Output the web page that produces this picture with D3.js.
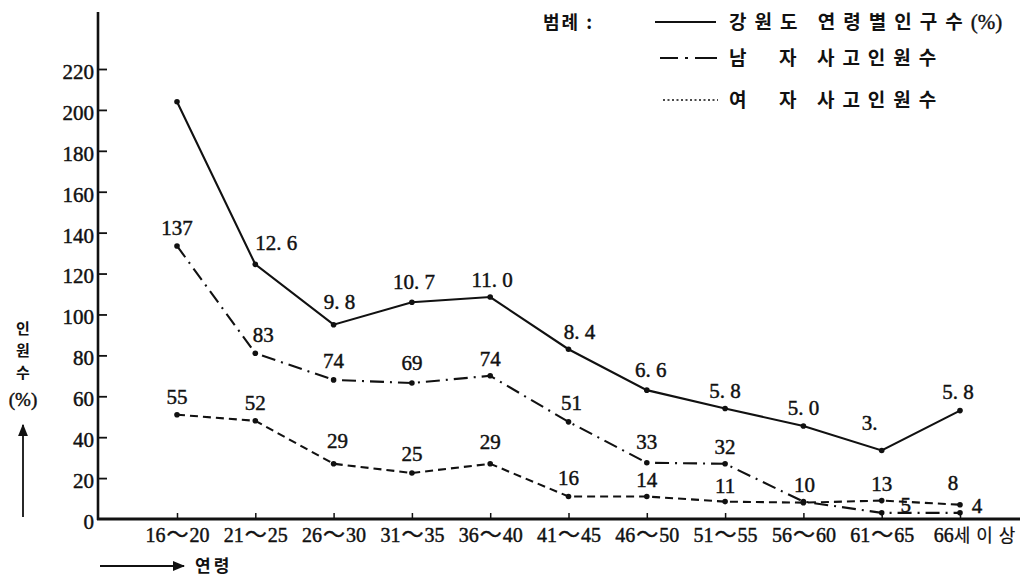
<!DOCTYPE html>
<html><head><meta charset="utf-8">
<script src="https://cdn.jsdelivr.net/npm/d3@7"></script>
<style>body{margin:0;background:#fff} svg{display:block}</style>
</head><body><svg id="c" width="1030" height="580"></svg>
<script>
// ---- data ----
const categories = ["16~20","21~25","26~30","31~35","36~40","41~45","46~50","51~55","56~60","61~65","66세이상"];
const popValues    = [204, 124.5, 95, 106, 108.5, 83, 63, 54, 45.5, 33.5, 53];
const popLabels    = ["", "12. 6", "9. 8", "10. 7", "11. 0", "8. 4", "6. 6", "5. 8", "5. 0", "3.", "5. 8"];
const maleValues   = [133.5, 81, 68, 66.5, 70, 47.5, 27.5, 27, 8.5, 3, 3];
const maleLabels   = ["137", "83", "74", "69", "74", "51", "33", "32", "", "5", "4"];
const femaleValues = [51, 48, 27, 22.5, 27, 11, 11, 8.5, 8, 9, 7];
const femaleLabels = ["55", "52", "29", "25", "29", "16", "14", "11", "10", "13", "8"];
const yTicks = [0,20,40,60,80,100,120,140,160,180,200,220];
const legendNames = [["강원도 연령별인구수","(%)"], ["남  자 사고인원수",""], ["여  자 사고인원수",""]];
const legendTitle = "범례 :";
const yTitle = ["인","원","수","(%)"];
const xTitle = "연령";

// ---- layout (label nudges, not data) ----
const popNudge    = [[0,0],[21,-14],[6,-16],[2,-13],[2,-10],[11,-10],[4,-13],[0,-11],[0,-11],[-12,-20],[-2,-12]];
const maleNudge   = [[0,-11],[8,-11],[0,-12],[0,-13],[0,-10],[3,-12],[0,-14],[0,-10],[0,0],[24,-1],[17,0]];
const femaleNudge = [[0,-11],[0,-11],[4,-16],[0,-12],[0,-15],[0,-12],[0,-10],[0,-9],[1,-11],[0,-10],[-7,-15]];

const NUM = "'Liberation Serif','DejaVu Serif',serif";
const KR = "'Noto Sans CJK KR','Noto Sans CJK SC',sans-serif";
const INK = "#111";

const svg = d3.select("#c");
const defs = svg.append("defs");
defs.append("marker").attr("id","arr").attr("viewBox","0 0 10 10").attr("refX",9).attr("refY",5)
  .attr("markerWidth",7).attr("markerHeight",7).attr("orient","auto-start-reverse")
  .append("path").attr("d","M0,1 L10,5 L0,9 Z").attr("fill",INK);

const x = d3.scalePoint().domain(categories).range([177, 960]);
const y = d3.scaleLinear().domain([0, 220]).range([519, 69]);

function numStyle(sel, size) {
  sel.attr("font-family",NUM).attr("font-size",size).attr("fill",INK)
    .attr("stroke",INK).attr("stroke-width",0.45);
}

// ---- y axis ----
const gy = svg.append("g").attr("transform","translate(98,0)")
  .call(d3.axisLeft(y).tickValues(yTicks).tickSizeInner(-9).tickSizeOuter(0).tickPadding(4));
gy.select(".domain").remove();
gy.selectAll(".tick line").attr("stroke",INK).attr("stroke-width",1.8).filter(d => d === 0).remove();
gy.selectAll(".tick text").call(numStyle, 21).attr("dy","0.45em");
svg.append("line").attr("x1",98).attr("x2",98).attr("y1",12).attr("y2",y(0)+1)
  .attr("stroke",INK).attr("stroke-width",2.6);

// ---- x axis ----
const gx = svg.append("g").attr("transform",`translate(0,${y(0)})`)
  .call(d3.axisBottom(x).tickSizeInner(-6).tickSizeOuter(0).tickPadding(9));
gx.select(".domain").remove();
gx.selectAll(".tick line").attr("stroke",INK).attr("stroke-width",1.5);
gx.selectAll(".tick text").each(function(d){
  const t = d3.select(this).text(null).call(numStyle, 20);
  const parts = d.split("~");
  if (parts.length === 2) {
    t.append("tspan").text(parts[0]);
    t.append("tspan").attr("font-family",KR).attr("font-size",22).attr("dx",1).text("～");
    t.append("tspan").attr("dx",1).text(parts[1]);
  } else {
    const m = d.match(/^(\d+)(.*)$/);
    t.attr("dx",17);
    t.append("tspan").text(m[1]);
    t.append("tspan").attr("font-family",KR).attr("font-size",18).attr("stroke-width",0.2)
      .attr("letter-spacing",6).text(m[2]);
  }
});
svg.append("line").attr("x1",97).attr("x2",1020).attr("y1",y(0)).attr("y2",y(0))
  .attr("stroke",INK).attr("stroke-width",2.8);

// ---- series ----
const series = [
  {values: popValues, labels: popLabels, nudge: popNudge, dash: null},
  {values: maleValues, labels: maleLabels, nudge: maleNudge, dash: "14,6,2,6"},
  {values: femaleValues, labels: femaleLabels, nudge: femaleNudge, dash: "8,5"}
];
const line = d3.line().x((d,i) => x(categories[i])).y(d => y(d));
series.forEach(s => {
  svg.append("path").datum(s.values).attr("d", line).attr("fill","none")
    .attr("stroke",INK).attr("stroke-width",2.1).attr("stroke-dasharray", s.dash);
  svg.append("g").selectAll("circle").data(s.values).join("circle")
    .attr("cx",(d,i)=>x(categories[i])).attr("cy",d=>y(d)).attr("r",2.8).attr("fill",INK);
  svg.append("g").selectAll("text").data(s.values).join("text")
    .attr("x",(d,i)=>x(categories[i]) + s.nudge[i][0])
    .attr("y",(d,i)=>y(d) + s.nudge[i][1])
    .attr("text-anchor","middle").call(numStyle, 21)
    .text((d,i)=>s.labels[i]);
});

// ---- legend ----
svg.append("text").attr("x",543).attr("y",29).attr("font-family",KR).attr("font-size",18)
  .attr("font-weight",700).attr("letter-spacing",2).attr("fill",INK).text(legendTitle);
const legRows = [
  {y: 22, x1: 655, x2: 716, dash: null},
  {y: 58, x1: 660, x2: 717, dash: "18,7,3,7,30"},
  {y: 100, x1: 663, x2: 718, dash: "2,2.5"}
];
legRows.forEach((r,i) => {
  svg.append("line").attr("x1",r.x1).attr("x2",r.x2).attr("y1",r.y).attr("y2",r.y)
    .attr("stroke",INK).attr("stroke-width", i===2 ? 1.4 : 2).attr("stroke-dasharray", r.dash);
  const t = svg.append("text").attr("x",729).attr("y",r.y+7).attr("font-family",KR).attr("font-size",19)
    .attr("font-weight",700).attr("xml:space","preserve").style("white-space","pre").attr("fill",INK);
  t.append("tspan").attr("letter-spacing",8).text(legendNames[i][0]);
  if (legendNames[i][1]) t.append("tspan").attr("font-family",NUM).attr("font-weight",400)
    .attr("font-size",21).attr("stroke",INK).attr("stroke-width",0.4).text(legendNames[i][1]);
});

// ---- axis titles ----
const yt = [334, 356, 378, 406];
yTitle.forEach((s,i) => {
  const t = svg.append("text").attr("x",23).attr("y",yt[i]).attr("text-anchor","middle").attr("fill",INK);
  if (i === 3) t.call(numStyle, 19); else t.attr("font-family",KR).attr("font-size",15).attr("font-weight",700);
  t.text(s);
});
svg.append("line").attr("x1",23).attr("x2",23).attr("y1",517).attr("y2",425)
  .attr("stroke",INK).attr("stroke-width",1.8).attr("marker-end","url(#arr)");
svg.append("line").attr("x1",100).attr("x2",184).attr("y1",566).attr("y2",566)
  .attr("stroke",INK).attr("stroke-width",1.8).attr("marker-end","url(#arr)");
svg.append("text").attr("x",195).attr("y",572).attr("font-family",KR).attr("font-size",17)
  .attr("font-weight",700).attr("letter-spacing",3).attr("fill",INK).text(xTitle);
</script></body></html>
